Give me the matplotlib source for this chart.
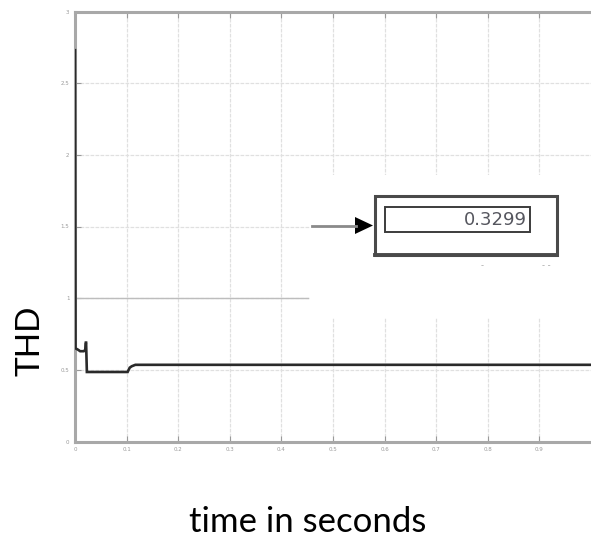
import matplotlib
matplotlib.use("Agg")
import matplotlib.pyplot as plt
from matplotlib.patches import Rectangle

# THD trace over time
time_s = [0.0, 0.001, 0.006, 0.010, 0.017, 0.020, 0.021, 0.0215, 0.023, 0.060, 0.102, 0.106, 0.110, 0.117, 0.40, 0.70, 1.0]
thd = [2.73, 0.65, 0.64, 0.63, 0.63, 0.64, 0.69, 0.69, 0.485, 0.485, 0.485, 0.515, 0.525, 0.535, 0.535, 0.535, 0.535]

x_ticks = [0.0, 0.1, 0.2, 0.3, 0.4, 0.5, 0.6, 0.7, 0.8, 0.9]
x_tick_labels = ["0", "0.1", "0.2", "0.3", "0.4", "0.5", "0.6", "0.7", "0.8", "0.9"]
y_ticks = [0.0, 0.5, 1.0, 1.5, 2.0, 2.5, 3.0]
y_tick_labels = ["0", "0.5", "1", "1.5", "2", "2.5", "3"]

display_value = "0.3299"

W, H, DPI = 591, 540, 100
fig = plt.figure(figsize=(W / DPI, H / DPI), dpi=DPI)
fig.patch.set_facecolor("white")

ax = fig.add_axes([75 / W, (540 - 441.5) / H, (W - 75) / W, 430 / H])
ax.set_xlim(0, 1.0)
ax.set_ylim(0, 3.0)

ax.set_xticks(x_ticks)
ax.set_xticklabels(x_tick_labels)
ax.set_yticks(y_ticks)
ax.set_yticklabels(y_tick_labels)
ax.tick_params(axis="both", direction="in", length=4, width=0.8, color="#9a9a9a",
               labelsize=4, labelcolor="#9a9a9a", pad=4, top=True)

ax.grid(True, color="#e0e0e0", linestyle=(0, (3, 1)), linewidth=0.9)
ax.set_axisbelow(True)

for side in ("top", "left", "bottom"):
    ax.spines[side].set_color("#a8a8a8")
    ax.spines[side].set_linewidth(2.2)
ax.spines["right"].set_visible(False)

# blank panel behind the display block
ax.add_patch(Rectangle((0.456, 0.86), 0.6, 1.0, transform=ax.transData,
                       facecolor="white", edgecolor="none", zorder=1.5))
# short piece of the 1.0 reference line
ax.plot([0.0, 0.452], [1.0, 1.0], color="#bdbdbd", lw=1.0, zorder=1.6)

ax.plot(time_s, thd, color="#2a2a2a", lw=1.9, zorder=3, solid_joinstyle="miter")

# display block with arrow
fig_ax = fig.add_axes([0, 0, 1, 1])
fig_ax.set_xlim(0, W)
fig_ax.set_ylim(H, 0)
fig_ax.axis("off")

fig_ax.plot([312, 356], [226, 226], color="#8a8a8a", lw=2.0)
fig_ax.fill([355, 373, 355], [217, 225.5, 234], color="black", lw=0)
fig_ax.add_patch(Rectangle((375, 196), 182, 59, facecolor="white",
                           edgecolor="#4a4a4a", lw=2.2))
fig_ax.plot([375, 557], [255, 255], color="#4a4a4a", lw=2.8)
fig_ax.add_patch(Rectangle((385, 207), 145, 25, facecolor="white",
                           edgecolor="#3c3c3c", lw=1.4))
fig_ax.text(527, 220, display_value, ha="right", va="center", fontsize=13,
            color="#55565e", family="DejaVu Sans")
fig_ax.text(482, 266, "-", ha="center", va="center", fontsize=6, color="#aaaaaa")
fig_ax.text(546, 266, "- -", ha="center", va="center", fontsize=6, color="#aaaaaa")

fig.text(30 / W, 1 - 341 / H, "THD", rotation=90, ha="center", va="center",
         fontsize=24, family=["Lato", "DejaVu Sans"], color="black")
fig.text(308 / W, 1 - 522 / H, "time in seconds", ha="center", va="center",
         fontsize=25, family=["Lato", "DejaVu Sans"], color="black")

fig.savefig("out.png", dpi=DPI, facecolor="white")
